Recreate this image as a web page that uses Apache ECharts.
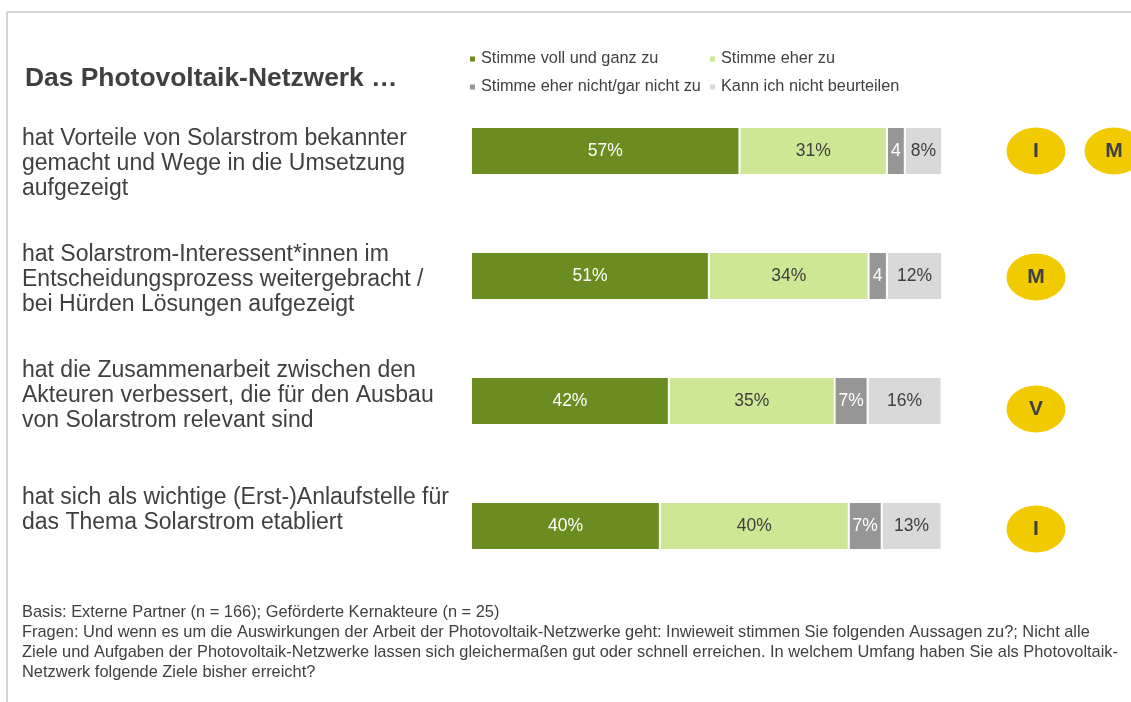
<!DOCTYPE html>
<html>
<head>
<meta charset="utf-8">
<script src="https://cdn.jsdelivr.net/npm/echarts@6/dist/echarts.min.js"></script>
<style>
html,body{margin:0;padding:0;background:#fff;}
#chart{width:1131px;height:702px;}
</style>
</head>
<body>
<div id="chart"></div>
<script>
// ---- data ----
const categories = [
  "hat Vorteile von Solarstrom bekannter\ngemacht und Wege in die Umsetzung\naufgezeigt",
  "hat Solarstrom-Interessent*innen im\nEntscheidungsprozess weitergebracht /\nbei Hürden Lösungen aufgezeigt",
  "hat die Zusammenarbeit zwischen den\nAkteuren verbessert, die für den Ausbau\nvon Solarstrom relevant sind",
  "hat sich als wichtige (Erst-)Anlaufstelle für\ndas Thema Solarstrom etabliert"
];
const seriesNames = ["Stimme voll und ganz zu", "Stimme eher zu", "Stimme eher nicht/gar nicht zu", "Kann ich nicht beurteilen"];
const vollUndGanz = [57.0, 50.5, 42.0, 40.1];
const eherZu = [31.3, 33.9, 35.2, 40.1];
const eherNicht = [3.8, 3.9, 7.0, 7.0];
const nichtBeurteilen = [7.9, 11.7, 15.7, 12.7];
// badges: [column, row, letter]
const badges = [[0, 0, "I"], [1, 0, "M"], [0, 1, "M"], [0, 2, "V"], [0, 3, "I"]];
const titleText = "Das Photovoltaik-Netzwerk …";
const footnote = "Basis: Externe Partner (n = 166); Geförderte Kernakteure (n = 25)\nFragen: Und wenn es um die Auswirkungen der Arbeit der Photovoltaik-Netzwerke geht: Inwieweit stimmen Sie folgenden Aussagen zu?; Nicht alle\nZiele und Aufgaben der Photovoltaik-Netzwerke lassen sich gleichermaßen gut oder schnell erreichen. In welchem Umfang haben Sie als Photovoltaik-\nNetzwerk folgende Ziele bisher erreicht?";

// ---- styles ----
const FONT = "'Liberation Sans', Arial, sans-serif";
const TXT = "#404040";
const colors = ["#6b8c21", "#cde794", "#969696", "#d9d9d9"];
const labelColors = ["#ffffff", TXT, "#ffffff", TXT];
const seriesData = [vollUndGanz, eherZu, eherNicht, nichtBeurteilen];
// vertical spacer (px) above (+) or below (-) each category text block
const labelShift = [26, 7, -11, -31];
const badgeOffsets = [[0, 0], [0, 0], [0, 1], [0, 8], [0, 3]];

const chart = echarts.init(document.getElementById('chart'), null, {renderer: 'canvas'});

const barSeries = seriesNames.map((name, i) => ({
  name: name,
  type: 'bar',
  stack: 'total',
  xAxisIndex: 0,
  yAxisIndex: 0,
  barWidth: 48,
  itemStyle: {color: colors[i], borderColor: '#ffffff', borderWidth: 1},
  label: {
    show: true,
    position: 'inside',
    color: labelColors[i],
    fontFamily: FONT,
    fontSize: 17.5,
    formatter: p => {
      const r = Math.round(p.value);
      return p.value < 5 ? String(r) : r + '%';
    }
  },
  emphasis: {disabled: true},
  data: seriesData[i]
}));

const legendPos = [[468, 51], [708, 51], [468, 79], [708, 79]];

const rich = {};
labelShift.forEach((s, i) => { rich['s' + i] = {fontSize: 1, lineHeight: Math.abs(s)}; });

const option = {
  animation: false,
  backgroundColor: '#ffffff',
  title: [
    {text: titleText, left: 25, top: 66, padding: 0,
     textStyle: {fontFamily: FONT, fontSize: 26.4, fontWeight: 'bold', color: TXT}},
    {text: footnote, left: 22, top: 602, padding: 0,
     textStyle: {fontFamily: FONT, fontSize: 16.4, fontWeight: 'normal', color: TXT, lineHeight: 20}}
  ],
  legend: seriesNames.map((n, i) => ({
    data: [n], left: legendPos[i][0], top: legendPos[i][1],
    icon: 'rect', itemWidth: 7, itemHeight: 7, itemGap: 5, padding: 0,
    selectedMode: false,
    textStyle: {fontFamily: FONT, fontSize: 16.3, color: TXT}
  })),
  grid: [
    {left: 471, right: 189, top: 88.5, height: 500, containLabel: false, outerBoundsMode: 'none'},
    {left: 1036, width: 78, top: 88.5, height: 500, containLabel: false, outerBoundsMode: 'none'}
  ],
  xAxis: [
    {type: 'value', gridIndex: 0, min: 0, max: 100, show: false},
    {type: 'value', gridIndex: 1, min: 0, max: 1, show: false}
  ],
  yAxis: [
    {type: 'category', gridIndex: 0, inverse: true, data: categories,
     axisLine: {show: false}, axisTick: {show: false}, splitLine: {show: false},
     axisLabel: {
       margin: 449, interval: 0, align: 'left',
       fontFamily: FONT, fontSize: 23, lineHeight: 25, color: TXT,
       rich: rich,
       formatter: (v, i) => {
         const s = labelShift[i];
         if (!s) return v;
         return s > 0 ? '{s' + i + '| }\n' + v : v + '\n{s' + i + '| }';
       }
     }},
    {type: 'category', gridIndex: 1, inverse: true, data: categories, show: false}
  ],
  series: barSeries.concat([{
    type: 'scatter',
    xAxisIndex: 1, yAxisIndex: 1,
    symbol: 'circle',
    symbolSize: [59, 47],
    itemStyle: {color: '#f2ca00', opacity: 1},
    label: {show: true, position: 'inside', formatter: p => p.data.value[2],
            fontFamily: FONT, fontSize: 21, fontWeight: 'bold', color: TXT},
    emphasis: {disabled: true},
    data: badges.map((b, i) => ({value: b, symbolOffset: badgeOffsets[i]}))
  }]),
  graphic: [
    {type: 'line', shape: {x1: 7, y1: 12, x2: 1131, y2: 12}, style: {stroke: '#d4d4d4', lineWidth: 2}, silent: true},
    {type: 'line', shape: {x1: 7, y1: 12, x2: 7, y2: 702}, style: {stroke: '#d4d4d4', lineWidth: 2}, silent: true}
  ]
};
chart.setOption(option);
</script>
</body>
</html>
